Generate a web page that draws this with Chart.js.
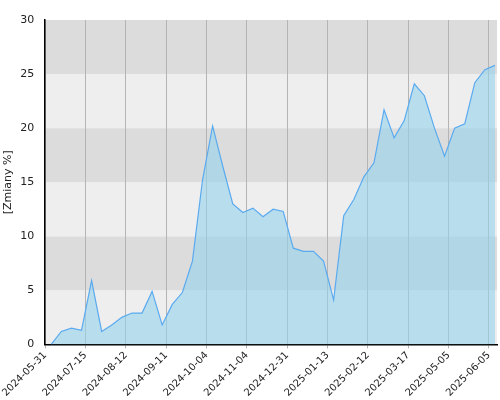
<!DOCTYPE html>
<html>
<head>
<meta charset="utf-8">
<script src="https://cdn.jsdelivr.net/npm/chart.js@4"></script>
<style>
  body { margin: 0; background: #fff; }
  #wrap { width: 500px; height: 400px; }
</style>
</head>
<body>
<div id="wrap"><canvas id="myChart"></canvas></div>
<script>
const tickLabels = ["2024-05-31", "2024-07-15", "2024-08-12", "2024-09-11", "2024-10-04", "2024-11-04",
  "2024-12-31", "2025-01-13", "2025-02-12", "2025-03-17", "2025-05-05", "2025-06-05"];
const values = [0, 1.2, 1.5, 1.3, 5.9, 1.2, 1.8, 2.5, 2.9, 2.9,
  4.9, 1.8, 3.7, 4.8, 7.7, 15.2, 20.2, 16.5, 13.0, 12.2,
  12.6, 11.8, 12.5, 12.3, 8.9, 8.6, 8.6, 7.7, 4.1, 11.9,
  13.4, 15.5, 16.8, 21.7, 19.1, 20.7, 24.1, 23.0, 20.0, 17.4,
  20.0, 20.4, 24.2, 25.4, 25.8];
const tickPos = tickLabels.map((_, i) => -0.6 + 4 * i);

const bands = {
  id: "bands",
  beforeDraw(chart) {
    const { ctx, chartArea: a, scales: { y } } = chart;
    ctx.save();
    for (let v = 0; v < 30; v += 5) {
      ctx.fillStyle = (v / 5) % 2 === 0 ? "#eeeeee" : "#dcdcdc";
      const top = y.getPixelForValue(v + 5), bot = y.getPixelForValue(v);
      ctx.fillRect(a.left, top, a.right - a.left, bot - top);
    }
    ctx.restore();
  }
};

new Chart("myChart", {
  type: "line",
  data: {
    datasets: [{
      data: values.map((v, i) => ({ x: i, y: v })),
      borderColor: "#5aaaf0",
      borderWidth: 1.2,
      backgroundColor: "rgba(150,210,235,0.62)",
      fill: "origin",
      pointRadius: 0,
      tension: 0
    }]
  },
  options: {
    responsive: true,
    maintainAspectRatio: false,
    animation: false,
    layout: { padding: { top: 20, right: 3 } },
    plugins: { legend: { display: false }, tooltip: { enabled: false } },
    scales: {
      x: {
        type: "linear",
        min: -0.6,
        max: 44.2,
        afterBuildTicks: s => { s.ticks = tickPos.map(v => ({ value: v })); },
        ticks: {
          autoSkip: false,
          minRotation: 45,
          maxRotation: 45,
          padding: 1,
          color: "#222",
          font: { size: 10, family: "DejaVu Sans" },
          callback: (v, i) => tickLabels[i]
        },
        grid: { color: "#b4b4b4", drawTicks: true, tickLength: 4 },
        border: { color: "#000", width: 1.5 }
      },
      y: {
        min: 0,
        max: 30,
        ticks: { stepSize: 5, color: "#222", font: { size: 11, family: "DejaVu Sans" } },
        grid: { display: false },
        border: { color: "#000", width: 1.5 },
        title: { display: true, text: "[Zmiany %]", color: "#222", padding: 2, font: { size: 11, family: "DejaVu Sans" } }
      }
    }
  },
  plugins: [bands]
});
</script>
</body>
</html>
